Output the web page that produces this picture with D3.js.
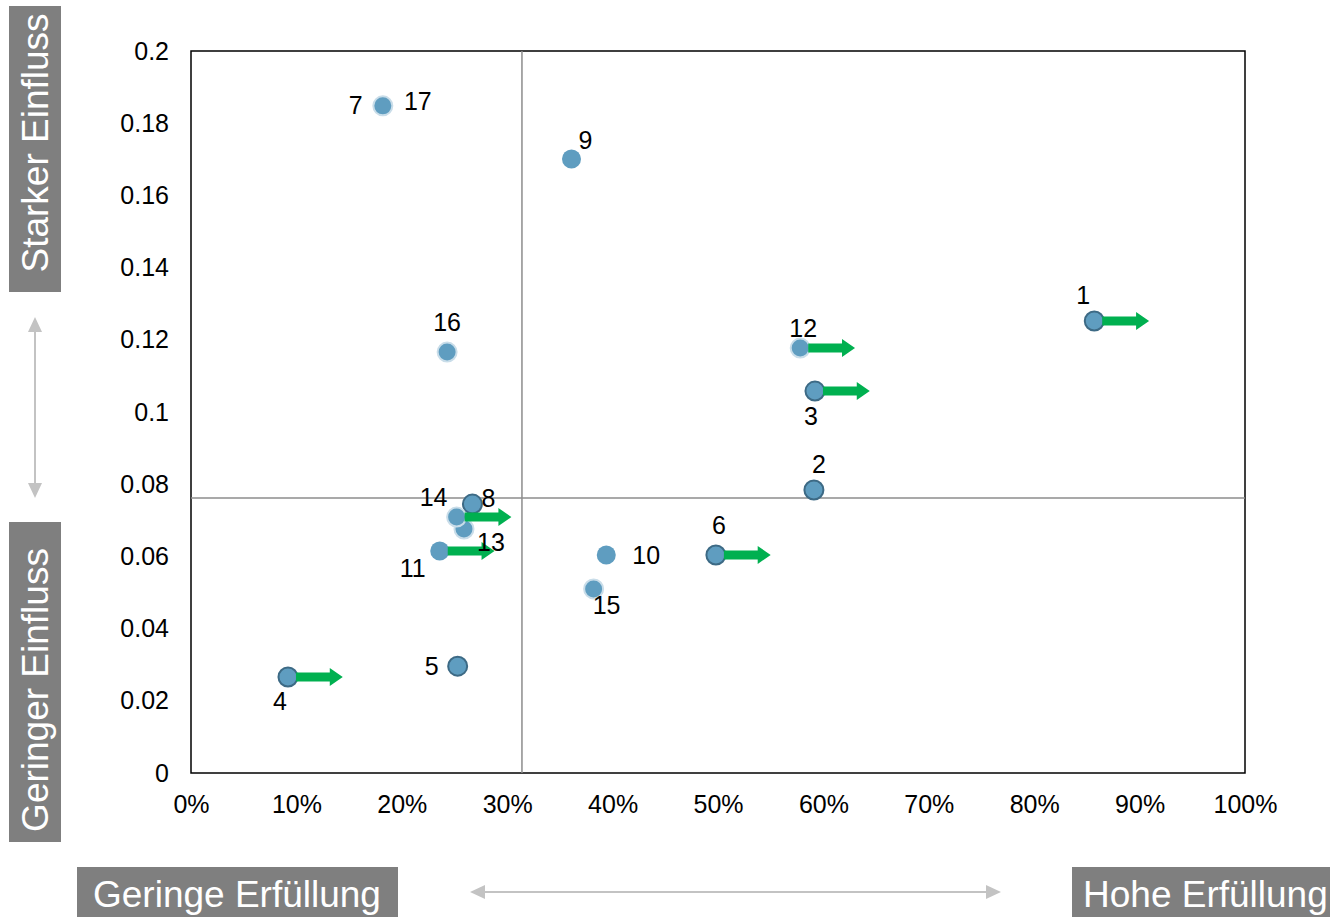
<!DOCTYPE html>
<html>
<head>
<meta charset="utf-8">
<script src="https://cdn.jsdelivr.net/npm/d3@7"></script>
<style>
  html, body { margin: 0; padding: 0; background: #ffffff; }
  svg { display: block; font-family: "Liberation Sans", Arial, sans-serif; }
</style>
</head>
<body>
<svg id="chart" width="1335" height="917"></svg>
<script>
// Criteria: id, fulfilment (share), influence weight
const ids        = ["1", "2", "3", "4", "5", "6", "7", "8", "9", "10", "11", "12", "13", "14", "15", "16", "17"];
const fulfilment = [0.857, 0.591, 0.592, 0.092, 0.253, 0.498, 0.182, 0.267, 0.361, 0.394, 0.236, 0.578, 0.259, 0.252, 0.382, 0.243, 0.182];
const influence  = [0.1252, 0.0784, 0.1058, 0.0266, 0.0296, 0.0604, 0.1848, 0.0745, 0.1701, 0.0604, 0.0615, 0.1177, 0.0676, 0.0709, 0.0510, 0.1166, 0.1848];
// Outline style of each marker: dark ring, light ring or none
const outline    = ["dark", "dark", "dark", "dark", "dark", "dark", "light", "dark", "none", "none", "none", "light", "light", "light", "light", "light", "light"];
// Criteria marked with an improvement arrow, and the arrow length in share units
const improving  = ["1", "12", "3", "6", "14", "11", "4"];
const arrowShift = 0.052;
// Label placement per criterion (dx, dy from marker centre)
const labelPos = {
  "1":  [-11, -17], "2":  [5, -17],   "3":  [-4, 34],
  "4":  [-8, 33],   "5":  [-26, 9],   "6":  [3, -21],
  "7":  [-27, 8],   "8":  [16, 3],    "9":  [14, -10],
  "10": [40, 9],    "11": [-27, 26],  "12": [3, -11],
  "13": [27, 22],   "14": [-23, -11], "15": [13, 25],
  "16": [0, -21],   "17": [35, 4]
};
// Quadrant split lines
const splitX = 0.314;
const splitY = 0.0762;
// Tick values
const xTicks = [0, 0.1, 0.2, 0.3, 0.4, 0.5, 0.6, 0.7, 0.8, 0.9, 1.0];
const yTicks = [0, 0.02, 0.04, 0.06, 0.08, 0.1, 0.12, 0.14, 0.16, 0.18, 0.2];
const yTickLabels = ["0", "0.02", "0.04", "0.06", "0.08", "0.1", "0.12", "0.14", "0.16", "0.18", "0.2"];

const svg = d3.select("#chart");
const plot = { left: 191, right: 1245, top: 51, bottom: 773 };
const fontFamily = "Liberation Sans, Arial, sans-serif";

const x = d3.scaleLinear().domain([0, 1]).range([plot.left, plot.right]);
const y = d3.scaleLinear().domain([0, 0.2]).range([plot.bottom, plot.top]);

// Plot frame
svg.append("rect")
  .attr("x", plot.left).attr("y", plot.top)
  .attr("width", plot.right - plot.left).attr("height", plot.bottom - plot.top)
  .attr("fill", "none").attr("stroke", "#000").attr("stroke-width", 1.5);

// Quadrant lines
svg.append("line")
  .attr("x1", x(splitX)).attr("x2", x(splitX))
  .attr("y1", plot.top).attr("y2", plot.bottom)
  .attr("stroke", "#8c8c8c").attr("stroke-width", 1.5);
svg.append("line")
  .attr("x1", plot.left).attr("x2", plot.right)
  .attr("y1", y(splitY)).attr("y2", y(splitY))
  .attr("stroke", "#8c8c8c").attr("stroke-width", 1.5);

// Axes (labels only, the frame draws the lines)
const xAxis = d3.axisBottom(x).tickValues(xTicks).tickFormat(d3.format(".0%")).tickSize(0).tickPadding(22);
const gx = svg.append("g").attr("transform", `translate(0,${plot.bottom})`).call(xAxis);
gx.select(".domain").remove();
gx.selectAll("text").attr("font-size", 25).attr("fill", "#000").attr("font-family", fontFamily);

const yAxis = d3.axisLeft(y).tickValues(yTicks).tickFormat((d, i) => yTickLabels[i]).tickSize(0).tickPadding(22);
const gy = svg.append("g").attr("transform", `translate(${plot.left},0)`).call(yAxis);
gy.select(".domain").remove();
gy.selectAll("text").attr("font-size", 25).attr("fill", "#000").attr("font-family", fontFamily);

// Data rows
const rows = ids.map((id, i) => ({ id, fx: fulfilment[i], inf: influence[i], ring: outline[i] }));

// Markers
const ringColor = { dark: "#3d6a85", light: "#c9dde9", none: "none" };
svg.append("g").selectAll("circle")
  .data(rows.filter(d => d.id !== "17"))
  .join("circle")
  .attr("cx", d => x(d.fx)).attr("cy", d => y(d.inf))
  .attr("r", 9.5)
  .attr("fill", "#5f9dc0")
  .attr("stroke", d => ringColor[d.ring])
  .attr("stroke-width", d => d.ring === "none" ? 0 : 2);

// Improvement arrows, starting at the marker edge
const arrowG = svg.append("g");
rows.filter(d => improving.includes(d.id)).forEach(d => {
  const x0 = x(d.fx) + 8, x1 = x(d.fx + arrowShift), yc = y(d.inf);
  const shaft = 4.5, head = 9, headLen = 13;
  const pts = [
    [x0, yc - shaft], [x1 - headLen, yc - shaft], [x1 - headLen, yc - head],
    [x1, yc], [x1 - headLen, yc + head], [x1 - headLen, yc + shaft], [x0, yc + shaft]
  ];
  arrowG.append("polygon")
    .attr("points", pts.map(p => p.join(",")).join(" "))
    .attr("fill", "#00b050");
});

// Labels
svg.append("g").selectAll("text")
  .data(rows)
  .join("text")
  .attr("x", d => x(d.fx) + labelPos[d.id][0])
  .attr("y", d => y(d.inf) + labelPos[d.id][1])
  .attr("text-anchor", "middle")
  .attr("font-size", 25)
  .attr("fill", "#000")
  .text(d => d.id);

// Side captions
const boxFill = "#7f7f7f";
function vBox(x0, y0, w, h, label, cy) {
  svg.append("rect").attr("x", x0).attr("y", y0).attr("width", w).attr("height", h).attr("fill", boxFill);
  svg.append("text")
    .attr("transform", `translate(${x0 + w / 2 + 13},${cy}) rotate(-90)`)
    .attr("text-anchor", "middle")
    .attr("font-size", 37).attr("fill", "#fff")
    .text(label);
}
vBox(9, 6, 52, 286, "Starker Einfluss", 143);
vBox(9, 522, 52, 320, "Geringer Einfluss", 690);

function hBox(x0, y0, w, h, label, tx) {
  svg.append("rect").attr("x", x0).attr("y", y0).attr("width", w).attr("height", h).attr("fill", boxFill);
  svg.append("text")
    .attr("x", tx).attr("y", y0 + 40)
    .attr("font-size", 37).attr("fill", "#fff")
    .text(label);
}
hBox(77, 867, 321, 50, "Geringe Erfüllung", 93);
hBox(1072, 867, 258, 50, "Hohe Erfüllung", 1083);

// Light gray double-headed direction arrows
const guide = "#c3c3c3";
function dblArrow(x1, y1, x2, y2) {
  const ang = Math.atan2(y2 - y1, x2 - x1);
  const hl = 15, hw = 7;
  const ux = Math.cos(ang), uy = Math.sin(ang);
  svg.append("line")
    .attr("x1", x1 + ux * hl).attr("y1", y1 + uy * hl)
    .attr("x2", x2 - ux * hl).attr("y2", y2 - uy * hl)
    .attr("stroke", guide).attr("stroke-width", 2);
  const head = (px, py, dx, dy) => {
    const bx = px - dx * hl, by = py - dy * hl;
    return [[px, py], [bx - dy * hw, by + dx * hw], [bx + dy * hw, by - dx * hw]];
  };
  [head(x2, y2, ux, uy), head(x1, y1, -ux, -uy)].forEach(p => {
    svg.append("polygon").attr("points", p.map(q => q.join(",")).join(" ")).attr("fill", guide);
  });
}
dblArrow(35, 317, 35, 498);
dblArrow(470, 892, 1001, 892);
</script>
</body>
</html>
